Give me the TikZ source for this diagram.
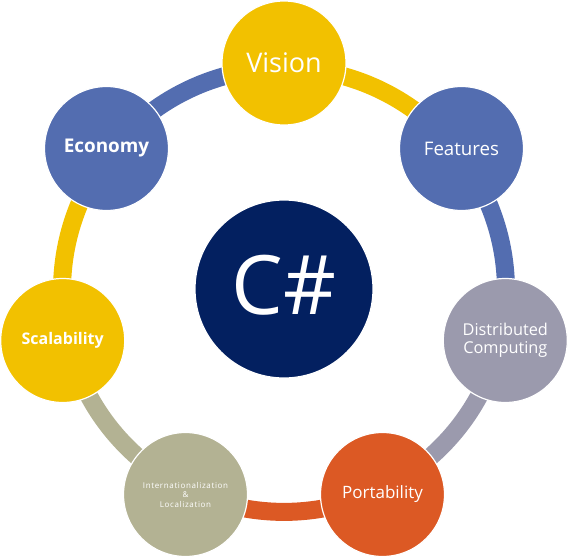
\documentclass[tikz,border=0pt]{standalone}
\usepackage{fontspec}
\setmainfont{Open Sans}
\newfontfamily\smallspaced[LetterSpace=8]{Open Sans}
\definecolor{cyellow}{RGB}{242,193,0}
\definecolor{cblue}{RGB}{83,109,176}
\definecolor{cgray}{RGB}{155,154,173}
\definecolor{corange}{RGB}{220,89,36}
\definecolor{ckhaki}{RGB}{179,178,147}
\definecolor{cnavy}{RGB}{3,32,96}
\begin{document}
\begin{tikzpicture}[x=1pt,y=-1pt,
  sat/.style={circle, minimum size=124pt, inner sep=0pt, draw=white, line width=1.2pt, text=white, align=center},
  hub/.style={circle, minimum size=178pt, inner sep=0pt, fill=cnavy, draw=white, line width=1.2pt, text=white},
  ring/.style={line width=18pt, line cap=butt},
  seg/.style={bend left=25.714, looseness=0.896}]
\useasboundingbox (0,0) rectangle (568,557);
% satellite centres
\coordinate (pV) at (284,63);
\coordinate (pF) at (461.5,148.5);
\coordinate (pD) at (505.3,340.5);
\coordinate (pP) at (382.5,494.5);
\coordinate (pI) at (185.5,494.5);
\coordinate (pS) at (62.7,340.5);
\coordinate (pE) at (106.5,148.5);
% points of the ring track (hidden under the circles)
\coordinate (aV) at (284,68);
\coordinate (aF) at (457.6,151.6);
\coordinate (aD) at (500.4,339.4);
\coordinate (aP) at (380.3,490.0);
\coordinate (aI) at (187.7,490.0);
\coordinate (aS) at (67.6,339.4);
\coordinate (aE) at (110.4,151.6);
% ring segments
\draw[ring, draw=cyellow] (aV) to[seg] (aF);
\draw[ring, draw=cblue]   (aF) to[seg] (aD);
\draw[ring, draw=cgray]   (aD) to[seg] (aP);
\draw[ring, draw=corange] (aP) to[seg] (aI);
\draw[ring, draw=ckhaki]  (aI) to[seg] (aS);
\draw[ring, draw=cyellow] (aS) to[seg] (aE);
\draw[ring, draw=cblue]   (aE) to[seg] (aV);
% circles
\node[sat, fill=cyellow, font=\fontsize{27}{32}\selectfont] (vision) at (pV) {Vision};
\node[sat, fill=cblue, font=\fontsize{18.7}{22}\selectfont] (features) at (pF) {Features};
\node[sat, fill=cgray, font=\fontsize{16.3}{18.5}\selectfont] (distributed) at (pD) {Distributed\\Computing};
\node[sat, fill=corange, font=\fontsize{17}{20}\selectfont] (portability) at (pP) {Portability};
\node[sat, fill=ckhaki, font=\smallspaced\fontsize{8}{9.5}\selectfont] (intl) at (pI) {Internationalization\\\&\\Localization};
\node[sat, fill=cyellow, font=\bfseries\fontsize{16}{20}\selectfont] (scalability) at (pS) {Scalability};
\node[sat, fill=cblue, font=\bfseries\fontsize{18.9}{22}\selectfont] (economy) at (pE) {Economy};
\node[hub, font=\fontsize{82}{90}\selectfont] (csharp) at (284,289) {\raisebox{7.5pt}{C\#}};
\end{tikzpicture}
\end{document}
